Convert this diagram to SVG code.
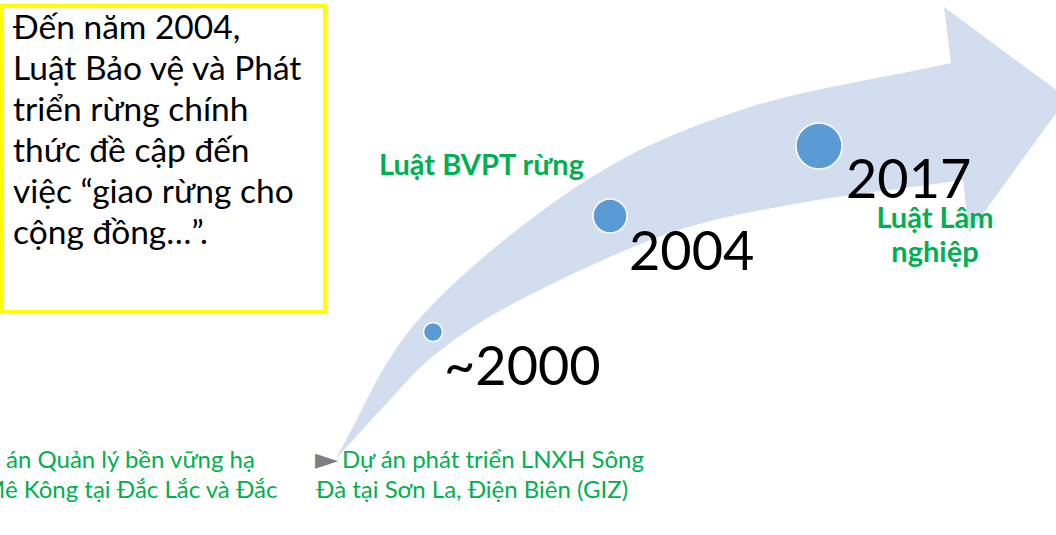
<svg xmlns="http://www.w3.org/2000/svg" width="1056" height="535" viewBox="0 0 1056 535">
  <style>
    .box-text { font-family: Lato, "Open Sans", "Liberation Sans", sans-serif; font-size: 33.5px; fill: #000; }
    .year { font-family: Lato, "Open Sans", "Liberation Sans", sans-serif; font-size: 54px; fill: #000; }
    .law { font-family: Lato, "Open Sans", "Liberation Sans", sans-serif; font-size: 29px; font-weight: bold; fill: #00B050; }
    .project { font-family: Lato, "Open Sans", "Liberation Sans", sans-serif; font-size: 24px; fill: #00B050; }
    .bullet { font-family: "DejaVu Sans", sans-serif; font-size: 30px; fill: #7F7F7F; }
    .dot { fill: #5B9BD5; stroke: #FFFFFF; stroke-width: 1.5; }
  </style>

  <rect width="1056" height="535" fill="#FFFFFF"/>

  <!-- curved timeline arrow -->
  <g id="connectors">
    <path id="timeline-arrow" fill="#D2DEEF"
      d="M335,460
         C363,413 378,365 420,318
         C462,271 532,215 587,180
         C642,145 689,127 750,107
         C811,88 884,78 951,63
         L944,7 L1067,98 L969,233 L963,180
         C909,188 849,194 800,203
         C751,212 717,217 670,233
         C623,249 559,280 520,300
         C481,320 459,336 437,353
         C415,370 404,385 387,403
         C370,421 352,441 335,460 Z"/>
  </g>

  <!-- note box -->
  <g id="note">
    <rect x="2" y="6" width="323" height="306" fill="#FFFFFF" stroke="#FFFF00" stroke-width="4"/>
    <text class="box-text" x="13" y="39">Đến năm 2004,</text>
    <text class="box-text" x="13" y="80">Luật Bảo vệ và Phát</text>
    <text class="box-text" x="13" y="121">triển rừng chính</text>
    <text class="box-text" x="13" y="162">thức đề cập đến</text>
    <text class="box-text" x="13" y="203">việc “giao rừng cho</text>
    <text class="box-text" x="13" y="244">cộng đồng…”.</text>
  </g>

  <!-- milestone 2000 -->
  <g id="m2000">
    <circle class="dot" cx="433" cy="332" r="9.5"/>
    <text class="year" x="444" y="385">~2000</text>
  </g>

  <!-- milestone 2004 -->
  <g id="m2004">
    <circle class="dot" cx="610" cy="216" r="17"/>
    <text class="year" x="629" y="270">2004</text>
    <text class="law" x="379" y="175">Luật BVPT rừng</text>
  </g>

  <!-- milestone 2017 -->
  <g id="m2017">
    <circle class="dot" cx="819" cy="146" r="23"/>
    <text class="year" x="846" y="198">2017</text>
    <text class="law" x="935" y="228" text-anchor="middle">Luật Lâm</text>
    <text class="law" x="935" y="262" text-anchor="middle">nghiệp</text>
  </g>

  <!-- projects -->
  <g id="project-mekong">
    <text class="project" x="6" y="468">án Quản lý bền vững hạ</text>
    <text class="project" x="-17" y="498">Mê Kông tại Đắc Lắc và Đắc</text>
  </g>
  <g id="project-songda">
    <text class="bullet" x="315" y="469">►</text>
    <text class="project" x="342" y="468">Dự án phát triển LNXH Sông</text>
    <text class="project" x="316" y="498">Đà tại Sơn La, Điện Biên (GIZ)</text>
  </g>
</svg>
